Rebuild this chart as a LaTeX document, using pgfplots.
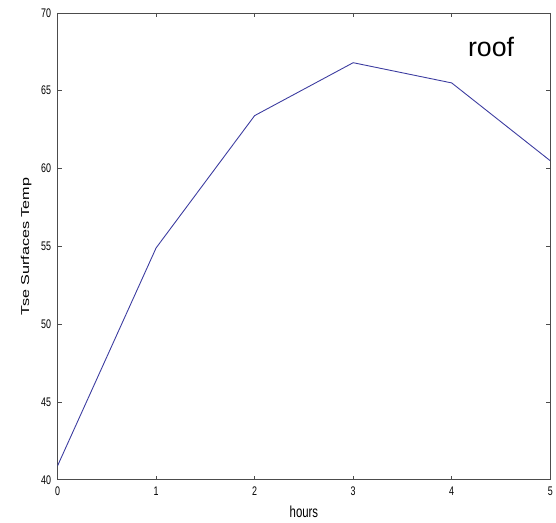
\documentclass[border=0pt]{standalone}
\usepackage{pgfplots}
\pgfplotsset{compat=1.18}
\usepackage{fontspec}
\setmainfont{Liberation Sans}
\usetikzlibrary{calc}
\definecolor{linec}{RGB}{60,60,160}
\begin{document}
\begin{tikzpicture}
\begin{axis}[
  name=ax,
  scale only axis,
  width=496bp, height=470bp,
  xmin=0, xmax=5, ymin=40, ymax=70,
  xtick={0,1,2,3,4,5},
  ytick={40,45,50,55,60,65,70},
  tick align=inside,
  major tick length=4bp,
  tick style={black!70, line width=0.6pt},
  axis line style={black!70, line width=0.8pt},
  tick label style={font=\fontsize{9}{10}\selectfont},
  xticklabel={\scalebox{1}[1.4]{\pgfmathprintnumber{\tick}}},
  yticklabel={\scalebox{1}[1.4]{\pgfmathprintnumber{\tick}}},
  xticklabel style={yshift=-4bp},
  yticklabel style={xshift=-3bp},
  /pgf/number format/assume math mode=true,
  xlabel={\scalebox{1}[1.4]{hours}},
  ylabel={\scalebox{1.42}[1]{Tse Surfaces Temp}},
  label style={font=\fontsize{11.5}{13}\selectfont},
  xlabel style={yshift=-3bp},
  ylabel style={yshift=3bp},
]
\addplot[color=linec, line width=0.9pt, mark=none] coordinates {
  (0,40.9) (1,54.9) (2,63.4) (3,66.8) (4,65.5) (5,60.5)
};
\node[font=\fontsize{27}{29}\selectfont, anchor=center] at (axis cs:4.4,67.8) {roof};
\end{axis}
\path[use as bounding box] ($(ax.south west)+(-58bp,-43bp)$) rectangle ($(ax.north east)+(2bp,13bp)$);
\end{tikzpicture}
\end{document}
